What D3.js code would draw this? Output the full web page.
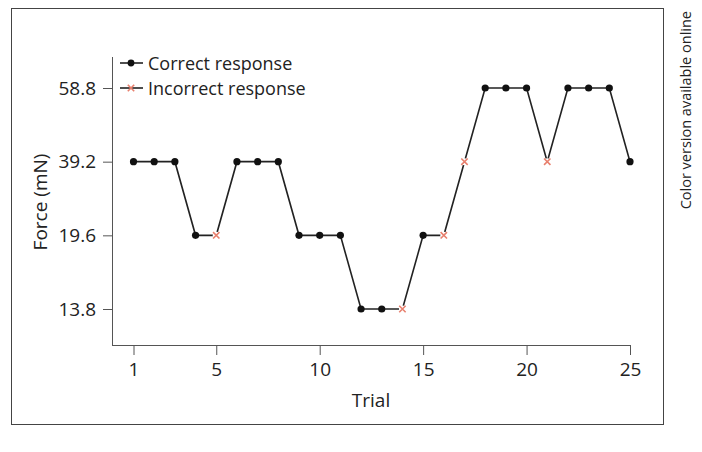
<!DOCTYPE html>
<html><head><meta charset="utf-8">
<script src="https://cdn.jsdelivr.net/npm/d3@7/dist/d3.min.js"></script>
<style>body{margin:0;background:#fff}svg{display:block}text{font-family:"Open Sans","Noto Sans",sans-serif;fill:#222}</style>
</head><body>
<svg id="c" width="702" height="452"></svg>
<script>
const trials = d3.range(1, 26);
const forceLevels = ["13.8", "19.6", "39.2", "58.8"];
const forces = ["39.2","39.2","39.2","19.6","19.6","39.2","39.2","39.2","19.6","19.6","19.6","13.8","13.8","13.8","19.6","19.6","39.2","58.8","58.8","58.8","39.2","58.8","58.8","58.8","39.2"];
const incorrect = [5, 14, 16, 17, 21];
const xTicks = [1, 5, 10, 15, 20, 25];
const legendLabels = ["Correct response", "Incorrect response"];

const data = trials.map((t, i) => ({t, f: forces[i], wrong: incorrect.includes(t)}));
const svg = d3.select("#c");
const axisColor = "#555";
const FONT = '"Open Sans","Noto Sans",sans-serif';

// frame
svg.append("rect").attr("x", 11.5).attr("y", 8.5).attr("width", 652).attr("height", 416)
  .attr("fill", "none").attr("stroke", "#444").attr("stroke-width", 1);

const x = d3.scaleLinear().domain([1, 25]).range([133.5, 630]);
const y = d3.scalePoint().domain(forceLevels).range([309, 88]);
const x0 = 112, yBase = 345, yTop = 57;

// axes lines
svg.append("line").attr("x1", x0 + 0.5).attr("x2", x0 + 0.5).attr("y1", yTop).attr("y2", yBase + 0.5).attr("stroke", axisColor);
svg.append("line").attr("x1", x0).attr("x2", x(25) + 0.5).attr("y1", yBase + 0.5).attr("y2", yBase + 0.5).attr("stroke", axisColor);

const gx = svg.append("g").attr("transform", `translate(0,${yBase})`)
  .call(d3.axisBottom(x).tickValues(xTicks).tickSize(10).tickPadding(8).tickSizeOuter(0));
gx.select(".domain").remove();
gx.selectAll("line").attr("stroke", axisColor);
gx.selectAll("text").attr("font-size", 19).attr("fill", "#222").attr("font-family", FONT);

const gy = svg.append("g").attr("transform", `translate(${x0},0)`)
  .call(d3.axisLeft(y).tickSize(9).tickPadding(7));
gy.select(".domain").remove();
gy.selectAll("line").attr("stroke", axisColor);
gy.selectAll("text").attr("font-size", 19).attr("fill", "#222").attr("font-family", FONT);

// axis titles
svg.append("text").attr("x", 371).attr("y", 407).attr("text-anchor", "middle").attr("font-size", 19).text("Trial");
svg.append("text").attr("transform", "translate(47,202) rotate(-90)").attr("text-anchor", "middle").attr("font-size", 19).text("Force (mN)");
svg.append("text").attr("transform", "translate(691,11) rotate(-90)").attr("text-anchor", "end").attr("font-size", 14.5).attr("fill", "#333").text("Color version available online");

// line
const line = d3.line().x(d => x(d.t)).y(d => y(d.f));
svg.append("path").datum(data).attr("d", line).attr("fill", "none").attr("stroke", "#222").attr("stroke-width", 1.6);

const red = "#e8806e";
function cross(g, cx, cy) {
  const s = 3.2;
  g.append("path").attr("d", `M${cx - s},${cy - s}L${cx + s},${cy + s}M${cx - s},${cy + s}L${cx + s},${cy - s}`)
    .attr("stroke", red).attr("stroke-width", 1.6).attr("fill", "none");
}
const marks = svg.append("g");
data.forEach(d => {
  if (d.wrong) {
    marks.append("circle").attr("cx", x(d.t)).attr("cy", y(d.f)).attr("r", 3.5).attr("fill", "#fff");
    cross(marks, x(d.t), y(d.f));
  } else {
    marks.append("circle").attr("cx", x(d.t)).attr("cy", y(d.f)).attr("r", 3.6).attr("fill", "#111");
  }
});

// legend
const leg = svg.append("g");
legendLabels.forEach((lab, i) => {
  const ly = 63 + i * 25;
  leg.append("line").attr("x1", 120).attr("x2", 143).attr("y1", ly).attr("y2", ly).attr("stroke", "#222").attr("stroke-width", 1.6);
  if (i === 0) leg.append("circle").attr("cx", 131).attr("cy", ly).attr("r", 3.4).attr("fill", "#111");
  else cross(leg, 131, ly);
  leg.append("text").attr("x", 148).attr("y", ly + 6.5).attr("font-size", 18).text(lab);
});
</script>
</body></html>
